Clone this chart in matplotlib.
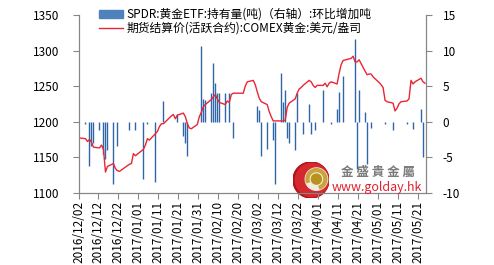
import numpy as np
import matplotlib
matplotlib.use('Agg')
import matplotlib.pyplot as plt
import matplotlib.dates as mdates
from matplotlib.patches import Circle, Wedge, Patch

plt.rcParams['font.family'] = ['Noto Sans CJK SC', 'DejaVu Sans']
plt.rcParams['axes.unicode_minus'] = False

# COMEX gold settlement (USD/oz), one value per trading day
price_dates = ['2016-12-02', '2016-12-05', '2016-12-06', '2016-12-07', '2016-12-08', '2016-12-09',
               '2016-12-12', '2016-12-13', '2016-12-14', '2016-12-15', '2016-12-16',
               '2016-12-19', '2016-12-20', '2016-12-21', '2016-12-22', '2016-12-23',
               '2016-12-27', '2016-12-28', '2016-12-29', '2016-12-30',
               '2017-01-03', '2017-01-04', '2017-01-05', '2017-01-06',
               '2017-01-09', '2017-01-10', '2017-01-11', '2017-01-12', '2017-01-13',
               '2017-01-17', '2017-01-18', '2017-01-19', '2017-01-20',
               '2017-01-23', '2017-01-24', '2017-01-25', '2017-01-26', '2017-01-27',
               '2017-01-30', '2017-01-31', '2017-02-01', '2017-02-02', '2017-02-03',
               '2017-02-06', '2017-02-07', '2017-02-08', '2017-02-09', '2017-02-10',
               '2017-02-13', '2017-02-14', '2017-02-15', '2017-02-16', '2017-02-17',
               '2017-02-21', '2017-02-22', '2017-02-23', '2017-02-24',
               '2017-02-27', '2017-02-28', '2017-03-01', '2017-03-02', '2017-03-03',
               '2017-03-06', '2017-03-07', '2017-03-08', '2017-03-09', '2017-03-10',
               '2017-03-13', '2017-03-14', '2017-03-15', '2017-03-16', '2017-03-17',
               '2017-03-20', '2017-03-21', '2017-03-22', '2017-03-23', '2017-03-24',
               '2017-03-27', '2017-03-28', '2017-03-29', '2017-03-30', '2017-03-31',
               '2017-04-03', '2017-04-04', '2017-04-05', '2017-04-06', '2017-04-07',
               '2017-04-10', '2017-04-11', '2017-04-12', '2017-04-13',
               '2017-04-17', '2017-04-18', '2017-04-19', '2017-04-20', '2017-04-21',
               '2017-04-24', '2017-04-25', '2017-04-26', '2017-04-27', '2017-04-28',
               '2017-05-01', '2017-05-02', '2017-05-03', '2017-05-04', '2017-05-05',
               '2017-05-08', '2017-05-09', '2017-05-10', '2017-05-11', '2017-05-12',
               '2017-05-15', '2017-05-16', '2017-05-17', '2017-05-18', '2017-05-19',
               '2017-05-22', '2017-05-23', '2017-05-24']
price = [1177, 1176, 1172, 1175, 1171, 1164,
         1163, 1167, 1161, 1129, 1137,
         1141, 1134, 1131, 1130, 1132,
         1140, 1141, 1155, 1152,
         1161, 1167, 1176, 1174,
         1183, 1186, 1193, 1197, 1197,
         1208, 1210, 1204, 1209,
         1212, 1207, 1197, 1191, 1190,
         1196, 1207, 1213, 1221, 1224,
         1231, 1235, 1238, 1232, 1227,
         1224, 1229, 1227, 1238, 1240,
         1240, 1240, 1250, 1256,
         1258, 1252, 1242, 1233, 1228,
         1224, 1214, 1207, 1201, 1201,
         1201, 1201, 1202, 1220, 1226,
         1232, 1240, 1246, 1248, 1251,
         1258, 1256, 1251, 1248, 1251,
         1251, 1254, 1249, 1254, 1256,
         1253, 1268, 1280, 1286,
         1289, 1292, 1284, 1284, 1287,
         1271, 1266, 1267, 1267, 1263,
         1255, 1252, 1248, 1230, 1228,
         1226, 1215, 1219, 1225, 1228,
         1229, 1232, 1258, 1253, 1256,
         1261, 1256, 1254]

# SPDR gold ETF holdings, daily change in tonnes (days with a visible bar)
etf_dates = ['2016-12-05', '2016-12-07', '2016-12-08', '2016-12-09', '2016-12-12',
             '2016-12-14', '2016-12-15', '2016-12-16', '2016-12-19', '2016-12-21',
             '2016-12-27', '2016-12-30', '2017-01-03', '2017-01-05', '2017-01-09',
             '2017-01-13', '2017-01-20', '2017-01-23', '2017-01-24', '2017-01-25',
             '2017-02-01', '2017-02-02', '2017-02-03', '2017-02-06', '2017-02-07',
             '2017-02-08', '2017-02-09', '2017-02-10', '2017-02-13', '2017-02-15',
             '2017-02-17', '2017-03-01', '2017-03-02', '2017-03-03', '2017-03-06',
             '2017-03-09', '2017-03-10', '2017-03-13', '2017-03-14', '2017-03-15',
             '2017-03-16', '2017-03-17', '2017-03-20', '2017-03-21', '2017-03-24',
             '2017-03-27', '2017-03-28', '2017-03-30', '2017-04-03', '2017-04-07',
             '2017-04-10', '2017-04-11', '2017-04-13', '2017-04-19', '2017-04-20',
             '2017-04-21', '2017-04-24', '2017-04-25', '2017-04-27', '2017-05-04',
             '2017-05-08', '2017-05-15', '2017-05-18', '2017-05-22', '2017-05-23']
etf_change = [-0.4, -6.3, -3.4, -3.0, -1.2,
              -4.5, -5.2, -4.0, -8.8, -3.4,
              -1.2, -1.2, -8.1, -0.3, -8.5,
              2.9, 1.1, -2.0, -3.0, -4.9,
              10.7, 3.2, 3.1, 4.0, 8.2,
              5.5, 4.0, 4.0, 4.0, 4.0,
              -2.3, 2.2, 1.7, -4.8, -3.8,
              -2.6, -8.8, 6.8, 2.8, 4.4,
              -2.3, -3.0, -4.0, 4.0, -1.7,
              2.5, -1.8, -1.2, 4.5, -0.3,
              1.8, 4.1, 6.4, 11.6, -6.7,
              4.4, 1.4, -5.9, -0.9, -0.3,
              -1.2, -0.3, -1.1, 1.8, -5.0]

bar_label = 'SPDR:黄金ETF:持有量(吨)（右轴）:环比增加吨'
line_label = '期货结算价(活跃合约):COMEX黄金:美元/盎司'

# day slots: value drawn in the middle of its day
px = mdates.date2num(np.array(price_dates, dtype='datetime64[D]')) + 0.5
bx = mdates.date2num(np.array(etf_dates, dtype='datetime64[D]')) + 0.5
start = mdates.date2num(np.datetime64('2016-12-02'))
end = mdates.date2num(np.datetime64('2017-05-25'))
tick_pos = np.arange(start, mdates.date2num(np.datetime64('2017-05-22')), 10)

fig = plt.figure(figsize=(4.94, 2.65), dpi=100)
ax = fig.add_axes([78.5 / 494, 1 - 192.7 / 265, 347.5 / 494, 177.7 / 265])
ax2 = ax.twinx()

# the columns are only about one pixel wide, so draw them as stems
bar_col = '#2f66a8'
ax2.vlines(bx, 0, etf_change, colors=bar_col, linewidth=1.0)
ax.plot(px, price, color='#ea2535', lw=1.0, label=line_label)

ax.set_zorder(ax2.get_zorder() + 1)
ax.patch.set_visible(False)

ax.set_xlim(start, end)
ax.set_ylim(1100, 1350)
ax.set_yticks(np.arange(1100, 1351, 50))
ax2.set_ylim(-10, 15)
ax2.set_yticks(np.arange(-10, 16, 5))

ax.set_xticks(tick_pos)
ax.set_xticklabels([mdates.num2date(t).strftime('%Y/%m/%d') for t in tick_pos], rotation=90)

grey = '#868686'
for a in (ax, ax2):
    a.spines['top'].set_visible(False)
    for s in ('left', 'right', 'bottom'):
        a.spines[s].set_color(grey)
        a.spines[s].set_linewidth(0.8)
    a.tick_params(direction='out', length=4, width=0.8, color=grey, labelsize=8.5, pad=2)
ax.tick_params(axis='y', pad=10)
ax2.tick_params(axis='y', pad=8)

h2, l2 = ax.get_legend_handles_labels()
fig.legend([Patch(color='#4f81bd')] + h2, [bar_label] + l2, loc='upper left',
           bbox_to_anchor=(99 / 494, 1 - 8 / 265),
           frameon=False, fontsize=8.5, handlelength=2.0, handleheight=0.6,
           handletextpad=0.3, labelspacing=0.05, borderpad=0, borderaxespad=0)

# watermark logo
lax = fig.add_axes([293 / 494, 1 - 198 / 265, 36 / 494, 36 / 265])
lax.set_xlim(-1, 1)
lax.set_ylim(-1, 1)
lax.set_aspect('equal')
lax.axis('off')
lax.add_patch(Circle((0, 0), 1.0, color='#b5121b'))
lax.add_patch(Circle((0.05, 0), 0.92, color='#d42a2f'))
lax.add_patch(Circle((0.3, 0.05), 0.62, color='#f4ece0'))
lax.add_patch(Wedge((0.3, 0.05), 0.58, -70, 200, width=0.16, color='#c9a43a'))
lax.add_patch(Circle((0.3, 0.05), 0.28, color='#b8921f'))

fig.text(378 / 494, 1 - 172 / 265, '金 盛 貴 金 屬', color='#7a7a7a', fontsize=9,
         fontweight='bold', ha='center', va='center')
fig.text(377 / 494, 1 - 187 / 265, 'www.golday.hk', color='#e2202e', fontsize=9,
         ha='center', va='center')

fig.savefig('out.png', dpi=100)
